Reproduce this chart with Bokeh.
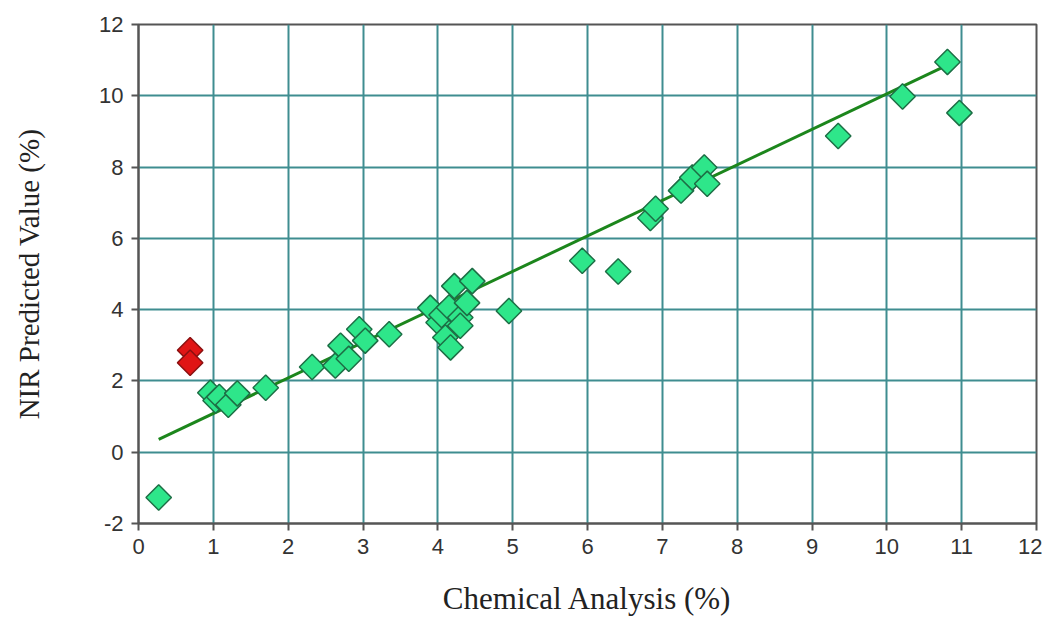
from bokeh.plotting import figure
from bokeh.models import ColumnDataSource, FixedTicker, Range1d, PrintfTickFormatter
from bokeh.embed import file_html
from bokeh.resources import INLINE
import numpy as np

# Sample data (chemical analysis %, NIR predicted %)
chem = [0.27, 0.96, 1.03, 1.08, 1.2, 1.32, 1.7, 2.32, 2.63, 2.7, 2.81, 2.95, 3.03, 3.35,
        3.9, 4.01, 4.05, 4.1, 4.15, 4.17, 4.22, 4.3, 4.3, 4.39, 4.46, 4.95,
        5.93, 6.41, 6.84, 6.91, 7.25, 7.4, 7.56, 7.6, 9.35, 10.21, 10.81, 10.97]
nir = [-1.27, 1.67, 1.45, 1.55, 1.33, 1.65, 1.81, 2.39, 2.43, 2.99, 2.62, 3.45, 3.13, 3.31,
       4.05, 3.64, 3.85, 3.22, 4.06, 2.94, 4.66, 3.78, 3.55, 4.19, 4.8, 3.96,
       5.37, 5.07, 6.57, 6.83, 7.34, 7.71, 7.99, 7.53, 8.87, 9.98, 10.95, 9.52]

# Outliers (red)
out_chem = [0.69, 0.69]
out_nir = [2.86, 2.51]

# Regression line end points
fit_x = [0.27, 10.85]
fit_y = [0.36, 10.9]

x_ticks = list(range(0, 13))
y_ticks = list(range(-2, 13, 2))

p = figure(width=1042, height=618, output_backend="svg", toolbar_location=None,
           x_range=Range1d(0, 12), y_range=Range1d(-2, 12),
           min_border_left=138, min_border_right=6, min_border_top=24, min_border_bottom=90)

grid_color = "#3f8d90"
p.xgrid.grid_line_color = grid_color
p.ygrid.grid_line_color = grid_color
p.xgrid.grid_line_width = 2
p.ygrid.grid_line_width = 2
p.xaxis.ticker = FixedTicker(ticks=x_ticks)
p.yaxis.ticker = FixedTicker(ticks=y_ticks)
p.xaxis.formatter = PrintfTickFormatter(format="%d")
p.yaxis.formatter = PrintfTickFormatter(format="%d")

for ax in (p.xaxis[0], p.yaxis[0]):
    ax.axis_line_color = "#555555"
    ax.axis_line_width = 2
    ax.major_tick_line_color = "#555555"
    ax.major_tick_line_width = 2
    ax.major_tick_out = 7
    ax.major_tick_in = 0
    ax.minor_tick_line_color = None
    ax.major_label_text_font = "Liberation Sans"
    ax.major_label_text_font_size = "22px"
    ax.major_label_text_color = "#333333"
    ax.axis_label_text_font = "Liberation Serif"
    ax.axis_label_text_font_style = "normal"
    ax.axis_label_text_color = "#222222"

p.xaxis.axis_label = "Chemical Analysis (%)"
p.yaxis.axis_label = "NIR Predicted Value (%)"
p.xaxis.axis_label_text_font_size = "31px"
p.yaxis.axis_label_text_font_size = "29px"
p.xaxis.major_label_standoff = 8
p.xaxis.axis_label_standoff = 24
p.yaxis.major_label_standoff = 8
p.yaxis.axis_label_standoff = 51

p.outline_line_color = "#555555"
p.outline_line_width = 2
p.background_fill_color = "white"
p.border_fill_color = "white"

p.line(fit_x, fit_y, line_color="#1c861c", line_width=3)

src = ColumnDataSource(dict(x=chem, y=nir))
p.scatter("x", "y", source=src, marker="square", angle=np.pi / 4, size=18,
          fill_color="#2ee68a", line_color="#1d6e45", line_width=1.5)

src2 = ColumnDataSource(dict(x=out_chem, y=out_nir))
p.scatter("x", "y", source=src2, marker="square", angle=np.pi / 4, size=18,
          fill_color="#e01515", line_color="#8a1010", line_width=1.5)

open("out.html", "w").write(file_html(p, INLINE))
